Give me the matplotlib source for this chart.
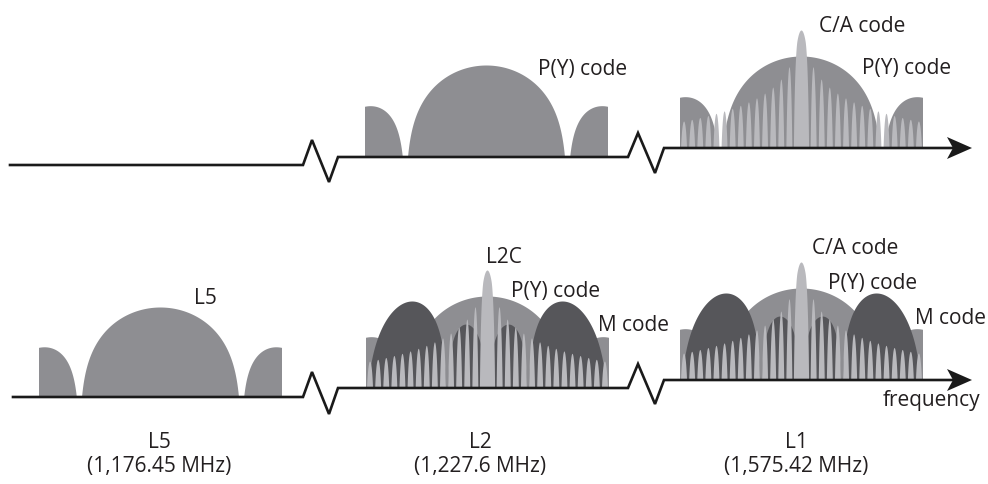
import numpy as np
import matplotlib
matplotlib.use("Agg")
import matplotlib.pyplot as plt
from matplotlib.patches import Polygon

# ---------------- data ----------------
band_names = ["L5", "L2", "L1"]
band_freqs = ["(1,176.45 MHz)", "(1,227.6 MHz)", "(1,575.42 MHz)"]
p_chip_mhz = 10.23          # P(Y) / L5 chipping rate
ca_chip_mhz = 1.023         # C/A and L2C chipping rate
m_sub_mhz = 10.23           # M code BOC(10,5) subcarrier
m_chip_mhz = 5.115          # M code chipping rate
band_half_mhz = 15.345      # transmitted half bandwidth
# panel contents: (row, band, signals)
panels = [
    ("top", "L2", ["P(Y)"]),
    ("top", "L1", ["P(Y)", "C/A"]),
    ("bottom", "L5", ["L5"]),
    ("bottom", "L2", ["P(Y)", "M", "L2C"]),
    ("bottom", "L1", ["P(Y)", "M", "C/A"]),
]

# ---------------- layout (pixels) ----------------
W, H = 988, 484
U = 81.0  # pixels per 10.23 MHz
centers = {("top", "L2"): 486, ("top", "L1"): 801,
           ("bottom", "L5"): 160, ("bottom", "L2"): 487, ("bottom", "L1"): 801}
bases = {("top", "L2"): 157, ("top", "L1"): 148,
         ("bottom", "L5"): 397, ("bottom", "L2"): 388, ("bottom", "L1"): 380}
peak_px = {"P(Y)": 92, "L5": 90, "M": 87, "C/A": 118, "L2C": 118}
floor_db = {"P(Y)": 30, "L5": 30, "M": 30, "C/A": 43, "L2C": 43}
local_db = 8.0        # visual depth of the narrow side-lobe nulls
local_db_main = 14.0  # same for the narrow main lobe
colors = {"P(Y)": "#8e8e92", "L5": "#8e8e92", "M": "#56565a",
          "C/A": "#b9b9bd", "L2C": "#b9b9bd"}
zord = {"P(Y)": 2, "L5": 2, "M": 3, "C/A": 4, "L2C": 4}
line_c = "#1a1a1a"
text_c = "#231f20"
FONT = "Open Sans"

f = np.linspace(-band_half_mhz, band_half_mhz, 60001) + 1e-7


def db_level(s, d):
    return np.clip(1 + 10 * np.log10(np.maximum(s, 1e-12)) / d, 0, 1)


def level(sig):
    if sig in ("P(Y)", "L5"):
        return db_level(np.sinc(f / p_chip_mhz) ** 2, floor_db[sig])
    if sig == "M":
        g = (np.sin(np.pi * f / m_chip_mhz) * np.tan(np.pi * f / (2 * m_sub_mhz))
             / (np.pi * f)) ** 2
        return db_level(g / np.nanmax(g), floor_db[sig])
    # narrow BPSK(1) lobes: envelope x local lobe shape
    x = f / ca_chip_mhz
    inner = np.abs(x) < 0.5
    env = np.where(inner, np.sinc(x) ** 2, 1 / (np.pi * x) ** 2)
    loc = np.where(inner, 1.0, np.sin(np.pi * x) ** 2)
    depth = np.where(np.abs(x) < 1, local_db_main, local_db)
    return db_level(env, floor_db[sig]) * db_level(loc, depth)


fig = plt.figure(figsize=(W / 100, H / 100), dpi=100)
ax = fig.add_axes([0, 0, 1, 1])
ax.set_xlim(0, W)
ax.set_ylim(H, 0)
ax.axis("off")

for row, band, sigs in panels:
    cx = centers[(row, band)]
    by = bases[(row, band)]
    x = cx + f / p_chip_mhz * U
    for sig in sigs:
        y = by - peak_px[sig] * level(sig)
        ax.fill_between(x, by, y, color=colors[sig], lw=0, zorder=zord[sig])

# axes lines with zigzag breaks
lw = 1.9


def row_line(y1, y2, y3, xs):
    pts = [(xs, y1)]
    pts += [(303, y1), (312, y1 - 25), (329, y1 + 17), (338, y2)]
    pts += [(628, y2), (638, y2 - 24), (655, y2 + 16), (664, y3)]
    pts += [(956, y3)]
    xs_, ys_ = zip(*pts)
    ax.plot(xs_, ys_, color=line_c, lw=lw, solid_joinstyle="miter", zorder=6)
    ax.add_patch(Polygon([(972, y3), (947, y3 - 11), (953, y3), (947, y3 + 11)],
                         closed=True, color=line_c, lw=0, zorder=7))


row_line(165, 157, 148, 10)
row_line(397, 388, 380, 13)

# labels
tk = dict(family=FONT, fontsize=15, color=text_c, ha="center", va="baseline", zorder=8)
ax.text(862, 32, "C/A code", **tk)
ax.text(907, 74, "P(Y) code", **tk)
ax.text(583, 75, "P(Y) code", **tk)
ax.text(504, 263, "L2C", **tk)
ax.text(556, 297, "P(Y) code", **tk)
ax.text(633, 331, "M code", **tk)
ax.text(855, 254, "C/A code", **tk)
ax.text(873, 289, "P(Y) code", **tk)
ax.text(950, 324, "M code", **tk)
ax.text(932, 406, "frequency", **tk)
ax.text(205, 304, "L5", **tk)

for name, fr, cx in zip(band_names, band_freqs, [159, 480, 796]):
    ax.text(cx, 448, name, **tk)
    ax.text(cx, 472, fr, **tk)

fig.savefig("out.png", dpi=100, facecolor="white")
